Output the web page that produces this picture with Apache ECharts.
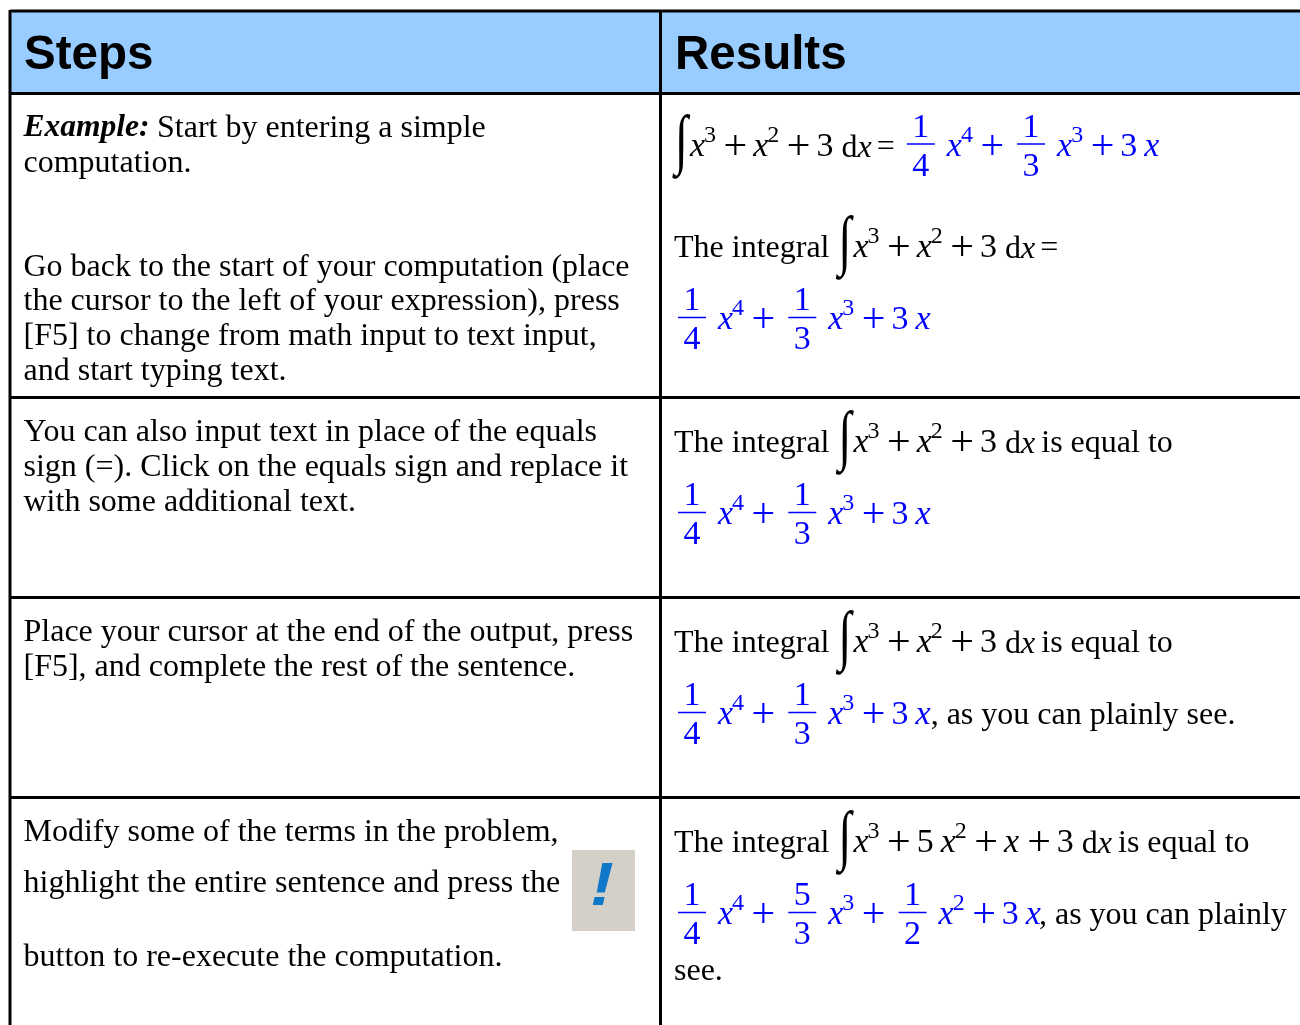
<!DOCTYPE html>
<html>
<head>
<meta charset="utf-8">
<script src="https://cdn.jsdelivr.net/npm/echarts@6/dist/echarts.min.js"></script>
<style>
html, body { margin: 0; padding: 0; background: #fff; }
#main { width: 1300px; height: 1025px; }
</style>
</head>
<body>
<div id="main"></div>
<script>
// table text
var headers = ['Steps', 'Results'];
var stepExampleLabel = 'Example:';
var stepExampleLines = ['Start by entering a simple', 'computation.'];
var stepBackLines = ['Go back to the start of your computation (place', 'the cursor to the left of your expression), press', '[F5] to change from math input to text input,', 'and start typing text.'];
var stepEqualsLines = ['You can also input text in place of the equals', 'sign (=). Click on the equals sign and replace it', 'with some additional text.'];
var stepFinishLines = ['Place your cursor at the end of the output, press', '[F5], and complete the rest of the sentence.'];
var stepModifyLines = ['Modify some of the terms in the problem,', 'highlight the entire sentence and press the', 'button to re-execute the computation.'];

// formulas as tokens: kind, text (frac: numerator, denominator)
var integrandBasic = [['int'], ['v', 'x'], ['sup', '3'], ['op', '+'], ['v', 'x'], ['sup', '2'], ['op', '+'], ['n', '3'], ['dx']];
var integrandEdited = [['int'], ['v', 'x'], ['sup', '3'], ['op', '+'], ['n', '5'], ['v', 'x'], ['sup', '2'], ['op', '+'], ['v', 'x'], ['op', '+'], ['n', '3'], ['dx']];
var answerBasic = [['frac', '1', '4'], ['v', 'x'], ['sup', '4'], ['op', '+'], ['frac', '1', '3'], ['v', 'x'], ['sup', '3'], ['op', '+'], ['n', '3'], ['v', 'x']];
var answerEdited = [['frac', '1', '4'], ['v', 'x'], ['sup', '4'], ['op', '+'], ['frac', '5', '3'], ['v', 'x'], ['sup', '3'], ['op', '+'], ['frac', '1', '2'], ['v', 'x'], ['sup', '2'], ['op', '+'], ['n', '3'], ['v', 'x']];

var BLACK = '#000';
var BLUE = '#0000ff';
var SERIF = '"Liberation Serif"';
var SANS = '"Liberation Sans"';
var SIZE = 32;
var MATH = 34;

var measure = document.createElement('canvas').getContext('2d');
var items = [];

function textWidth(str, font) {
    measure.font = font;
    return measure.measureText(str).width;
}

// baseline is the alphabetic line of the text, the renderer centres on the em box
function put(str, x, baseline, size, fill, opt) {
    opt = opt || {};
    var family = opt.family || SERIF;
    var font = (opt.style || 'normal') + ' ' + (opt.weight || 'normal') + ' ' + size + 'px ' + family;
    items.push({
        type: 'text', silent: true, x: x, y: baseline - size * 0.3375 + 3,
        scaleX: opt.scaleX || 1,
        style: {
            text: str, font: font, fill: fill, align: opt.align || 'left', verticalAlign: 'middle',
            shadowBlur: opt.blur || 0, shadowColor: opt.blur ? fill : 'transparent'
        }
    });
    return textWidth(str, font);
}

function lines(list, x, baselines) {
    for (var i = 0; i < list.length; i++) {
        put(list[i], x, baselines[i], SIZE, BLACK);
    }
}

function rule(x1, y1, x2, y2) {
    items.push({
        type: 'line', silent: true,
        shape: { x1: x1, y1: y1, x2: x2, y2: y2 },
        style: { stroke: BLACK, lineWidth: 3 }
    });
}

function formula(tokens, x, baseline, color) {
    for (var i = 0; i < tokens.length; i++) {
        var t = tokens[i], kind = t[0];
        if (kind === 'int') {
            put('\u222B', x + 1, baseline + 6.5, 66, color, { scaleX: 0.72 });
            x += 16;
        } else if (kind === 'v') {
            x += put(t[1], x, baseline, MATH, color, { style: 'italic' });
        } else if (kind === 'sup') {
            x += put(t[1], x - 1, baseline - 15, 24, color) + 0.5;
        } else if (kind === 'op') {
            // a plain x needs more room before the sign than a superscript does
            x += tokens[i - 1][0] === 'v' ? 8 : 6;
            x += put(t[1], x, baseline + 3.5, 42, color);
            x += 6;
        } else if (kind === 'n') {
            x += put(t[1], x, baseline, MATH, color) + 7;
        } else if (kind === 'dx') {
            x += 1;
            x += put('d', x, baseline, SIZE, color);
            x += put('x', x, baseline, SIZE, color, { style: 'italic' });
        } else if (kind === 'frac') {
            if (i > 0) {
                x += 7;
            }
            put(t[1], x + 14, baseline - 19, MATH, color, { align: 'center' });
            put(t[2], x + 14, baseline + 20, MATH, color, { align: 'center' });
            items.push({
                type: 'line', silent: true,
                shape: { x1: x, y1: baseline - 11.5, x2: x + 28, y2: baseline - 11.5 },
                style: { stroke: color, lineWidth: 1.5 }
            });
            x += 40;
        }
    }
    return x;
}

// header band and grid
items.push({ type: 'rect', silent: true, shape: { x: 10, y: 11, width: 1290, height: 82 }, style: { fill: '#99ccff' } });
rule(10, 11, 1300, 11);
rule(10, 93.5, 1300, 93.5);
rule(10, 397.5, 1300, 397.5);
rule(10, 597.5, 1300, 597.5);
rule(10, 797.5, 1300, 797.5);
rule(10, 10, 10, 1025);
rule(660.5, 10, 660.5, 1025);

put(headers[0], 24, 69, 47.5, BLACK, { family: SANS, weight: 'bold' });
put(headers[1], 675, 69, 47.5, BLACK, { family: SANS, weight: 'bold' });

// steps column
var labelWidth = put(stepExampleLabel, 23.5, 136, SIZE, BLACK, { style: 'italic', weight: 'bold', scaleX: 0.985 });
put(stepExampleLines[0], 24 + labelWidth + 5, 136, SIZE, BLACK);
put(stepExampleLines[1], 23.5, 171, SIZE, BLACK);
lines(stepBackLines, 23.5, [275, 309, 344, 379]);
lines(stepEqualsLines, 23.5, [440, 475, 510]);
lines(stepFinishLines, 23.5, [640, 675]);
lines(stepModifyLines, 23.5, [840, 891, 965]);

// toolbar button picture
items.push({ type: 'rect', silent: true, shape: { x: 572, y: 850, width: 63, height: 81 }, style: { fill: '#d4d0c8' } });
put('!', 590, 906, 62, '#0f78c8', { family: SANS, style: 'italic', weight: 'bold', blur: 2, scaleX: 1.15 });

// results column
var x = formula(integrandBasic, 674, 156, BLACK);
x += put('=', x + 5, 155, SIZE, BLACK) + 17;
formula(answerBasic, x, 155.5, BLUE);

var introWidth = put('The integral', 674, 256, SIZE, BLACK) + 8;
x = formula(integrandBasic, 674 + introWidth, 257, BLACK);
put('=', x + 5, 256, SIZE, BLACK);
formula(answerBasic, 678, 329, BLUE);

put('The integral', 674, 451, SIZE, BLACK);
x = formula(integrandBasic, 674 + introWidth, 452, BLACK);
put('is equal to', x + 6, 451, SIZE, BLACK);
formula(answerBasic, 678, 524, BLUE);

put('The integral', 674, 651, SIZE, BLACK);
x = formula(integrandBasic, 674 + introWidth, 652, BLACK);
put('is equal to', x + 6, 651, SIZE, BLACK);
x = formula(answerBasic, 678, 724, BLUE);
put(', as you can plainly see.', x, 723, SIZE, BLACK);

put('The integral', 674, 851, SIZE, BLACK);
x = formula(integrandEdited, 674 + introWidth, 852, BLACK);
put('is equal to', x + 6, 851, SIZE, BLACK);
x = formula(answerEdited, 678, 924, BLUE);
put(', as you can plainly', x - 2, 923, SIZE, BLACK);
put('see.', 674, 979, SIZE, BLACK);

var myChart = echarts.init(document.getElementById('main'), null, { renderer: 'canvas' });
myChart.setOption({ animation: false, backgroundColor: '#fff', graphic: { elements: items } });
</script>
</body>
</html>
